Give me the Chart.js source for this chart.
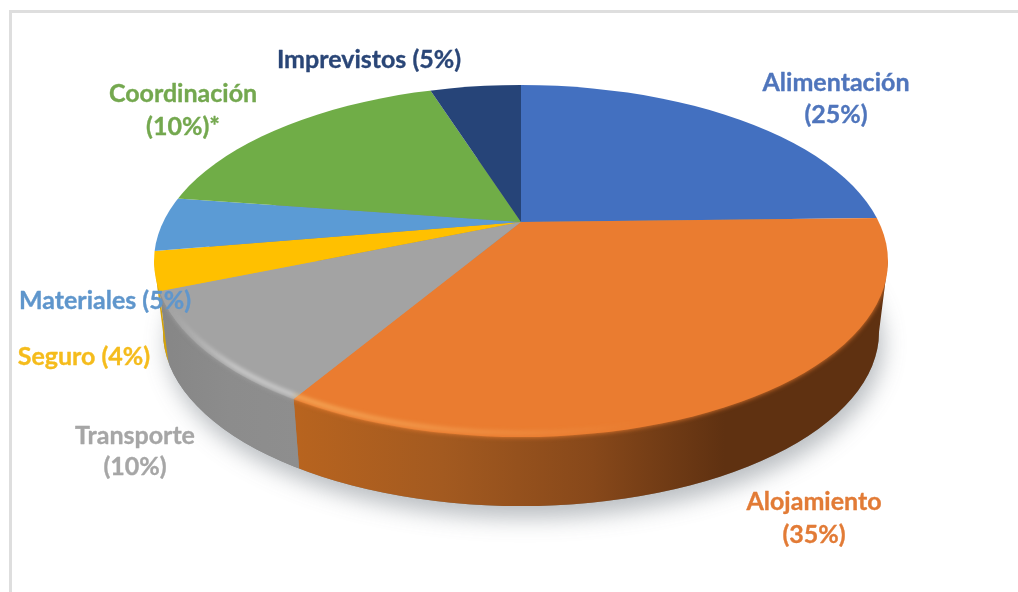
<!DOCTYPE html>
<html><head><meta charset="utf-8">
<style>html,body{margin:0;padding:0;background:#fff;overflow:hidden}canvas{display:block;filter:blur(.35px)}</style>
<script src="https://cdn.jsdelivr.net/npm/chart.js@4"></script>
</head><body>
<canvas id="c" width="1018" height="592" style="width:1018px;height:592px"></canvas>
<script>
// Data (drawn share of each slice, clockwise from 12 o'clock)
const categories = ['Alimentación','Alojamiento','Transporte','Seguro','Materiales','Coordinación','Imprevistos'];
const sliceValues = [24.5,35.7,9.7,2.9,5.0,18.1,4.0];
const labelLines = [['Alimentación','(25%)'],['Alojamiento','(35%)'],['Transporte','(10%)'],['Seguro (4%)'],['Materiales (5%)'],['Coordinación','(10%)*'],['Imprevistos (5%)']];
const sliceColors = ['#4370C0','#EA7C30','#A3A3A3','#FFC000','#5B9BD5','#70AD47','#264478'];
const labelColors = ['#4F75BC','#E27B36','#A6A6A6','#F5BC1C','#5F96CC','#74A84F','#2A4677'];

// Layout and style of the 3D look
const labelCentres = [[836,83,32],[814,502,33],[135,436,31],[84,357,0],[105,301,0],[183,94,33],[369,60,0]];
const apex = {x:521,y:222};
const rim = {cx:521,cy:261,rx:367,ry:176};
const base = {cx:521,cy:332,rx:358,ry:174};
const squashUp = 137/367, squashDown = 215/367;
const wallStops = [
  [[0,'#A8A8A8'],[1,'#A8A8A8']],
  [[0,'#B8641F'],[.25,'#A35A20'],[.5,'#87481A'],[.72,'#5F3111'],[1,'#5F3111']],
  [[0,'#868686'],[.5,'#8C8C8C'],[1,'#8E8E8E']],
  [[0,'#C99A08'],[1,'#D9A506']],
  [[0,'#4A7DAE'],[1,'#4A7DAE']],
  [[0,'#5A8A3A'],[1,'#5A8A3A']],
  [[0,'#1E365F'],[1,'#1E365F']]
];

function rimPoint(theta){
  const s = Math.sin(theta)<0 ? squashUp : squashDown;
  const dx = Math.cos(theta), dy = Math.sin(theta)*s;
  const ox=(apex.x-rim.cx)/rim.rx, oy=(apex.y-rim.cy)/rim.ry, px=dx/rim.rx, py=dy/rim.ry;
  const a=px*px+py*py, b=2*(ox*px+oy*py), c=ox*ox+oy*oy-1;
  const t=(-b+Math.sqrt(b*b-4*a*c))/(2*a);
  return {x:apex.x+t*dx,y:apex.y+t*dy};
}
function drawFaces(ctx,meta,top){
  ctx.save();
  ctx.beginPath();
  if(top) ctx.rect(0,0,1018,apex.y); else ctx.rect(0,apex.y,1018,592-apex.y);
  ctx.clip();
  const a=meta.data[0], k=430/a.outerRadius;
  ctx.translate(apex.x,apex.y);
  ctx.scale(k,k*(top?squashUp:squashDown));
  ctx.translate(-a.x,-a.y);
  meta.data.forEach(el=>el.draw(ctx));
  ctx.restore();
}
function rimClip(ctx){
  ctx.beginPath();
  ctx.ellipse(rim.cx,rim.cy,rim.rx,rim.ry,0,0,Math.PI*2);
  ctx.clip();
}
function wallClip(ctx){
  ctx.beginPath();
  ctx.moveTo(rim.cx-rim.rx,rim.cy);
  ctx.lineTo(base.cx-base.rx,base.cy);
  ctx.ellipse(base.cx,base.cy,base.rx,base.ry,0,Math.PI,0,true);
  ctx.lineTo(rim.cx+rim.rx,rim.cy);
  ctx.closePath();ctx.clip();
}
function topFace(chart){
  const off=document.createElement('canvas');off.width=1018;off.height=592;
  const o=off.getContext('2d');
  rimClip(o);
  const meta=chart.getDatasetMeta(0);
  drawFaces(o,meta,true);drawFaces(o,meta,false);
  return off;
}
function seamX(x,y){ // perspective: seams lean toward the centre as they go down
  return {x0:x,y0:y,x1:base.cx+(x-rim.cx)*base.rx/rim.rx,y1:y+(base.cy-rim.cy)};
}
const pie3d = {
  id:'pie3d',
  beforeDraw(chart){
    const ctx=chart.ctx;
    ctx.save();
    ctx.fillStyle='#fff';ctx.fillRect(0,0,1018,592);
    ctx.fillStyle='#DEDEDE';
    ctx.fillRect(9,10,1009,3);
    ctx.fillRect(9,10,3,582);
    ctx.restore();
  },
  beforeDatasetsDraw(chart){
    const ctx=chart.ctx, meta=chart.getDatasetMeta(0);
    // soft shadow under the disc
    ctx.save();
    ctx.shadowColor='rgba(90,100,110,.42)';ctx.shadowBlur=22;ctx.shadowOffsetX=4;ctx.shadowOffsetY=12;
    ctx.fillStyle='#888';
    ctx.beginPath();ctx.ellipse(base.cx,base.cy,base.rx,base.ry,0,0,Math.PI*2);ctx.fill();
    ctx.restore();
    // outer wall
    ctx.save();
    wallClip(ctx);
    meta.data.forEach((el,i)=>{
      const p=rimPoint(el.startAngle), q=rimPoint(el.endAngle);
      if(p.y<rim.cy && q.y<rim.cy) return;
      const far=x=>x>rim.cx?rim.cx+rim.rx+4:rim.cx-rim.rx-4;
      const a=p.y<rim.cy?{x0:far(p.x),y0:rim.cy-60,x1:far(p.x),y1:rim.cy+300}:seamX(p.x,p.y);
      const b=q.y<rim.cy?{x0:far(q.x),y0:rim.cy-60,x1:far(q.x),y1:rim.cy+300}:seamX(q.x,q.y);
      const l=Math.min(a.x0,b.x0), r=Math.max(a.x1,b.x1);
      const g=ctx.createLinearGradient(l,0,r,0);
      wallStops[i].forEach(s=>g.addColorStop(s[0],s[1]));
      ctx.fillStyle=g;
      // extend each seam upward and downward along its own lean
      const ext=(s,y)=>s.x0+(s.x1-s.x0)*(y-s.y0)/(s.y1-s.y0);
      ctx.beginPath();
      ctx.moveTo(ext(a,200),200);ctx.lineTo(ext(b,200),200);
      ctx.lineTo(ext(b,560),560);ctx.lineTo(ext(a,560),560);
      ctx.closePath();ctx.fill();
    });
    ctx.restore();
    // top face: soft edge over the wall, then the crisp face
    const face=topFace(chart);
    ctx.save();
    wallClip(ctx);
    ctx.filter='blur(2.5px)';
    ctx.drawImage(face,0,0);
    ctx.restore();
    ctx.drawImage(face,0,0);
    // rim highlight on the lit side
    ctx.save();
    ctx.beginPath();ctx.ellipse(rim.cx,rim.cy,rim.rx,rim.ry+1,0,0,Math.PI*2);ctx.clip();
    const h=ctx.createLinearGradient(170,0,640,0);
    h.addColorStop(0,'rgba(255,255,255,0)');
    h.addColorStop(.14,'rgba(255,255,255,.5)');
    h.addColorStop(.26,'rgba(255,255,255,.5)');
    h.addColorStop(.272,'rgba(255,205,120,.6)');
    h.addColorStop(.6,'rgba(255,190,110,.4)');
    h.addColorStop(1,'rgba(255,190,110,0)');
    ctx.strokeStyle=h;ctx.lineWidth=4;ctx.filter='blur(2.2px)';
    ctx.beginPath();ctx.ellipse(rim.cx,rim.cy,rim.rx-4,rim.ry-4,0,Math.PI*.18,Math.PI*.95);ctx.stroke();
    ctx.restore();
    return false;
  },
  afterDraw(chart){
    const ctx=chart.ctx;
    ctx.save();
    ctx.font='700 25px Lato';ctx.textBaseline='middle';ctx.lineJoin='round';
    labelLines.forEach((lines,i)=>{
      const [x,y,gap]=labelCentres[i];
      ctx.fillStyle=labelColors[i];ctx.strokeStyle=labelColors[i];ctx.lineWidth=.35;ctx.textAlign='center';
      lines.forEach((t,j)=>{ctx.fillText(t,x,y+j*gap);ctx.strokeText(t,x,y+j*gap);});
    });
    ctx.restore();
  }
};
new Chart(document.getElementById('c'),{
  type:'pie',
  data:{labels:categories,datasets:[{data:sliceValues,backgroundColor:sliceColors,borderWidth:0}]},
  options:{responsive:false,animation:false,devicePixelRatio:1,
    plugins:{legend:{display:false},tooltip:{enabled:false}}},
  plugins:[pie3d]
});
</script>
</body></html>
